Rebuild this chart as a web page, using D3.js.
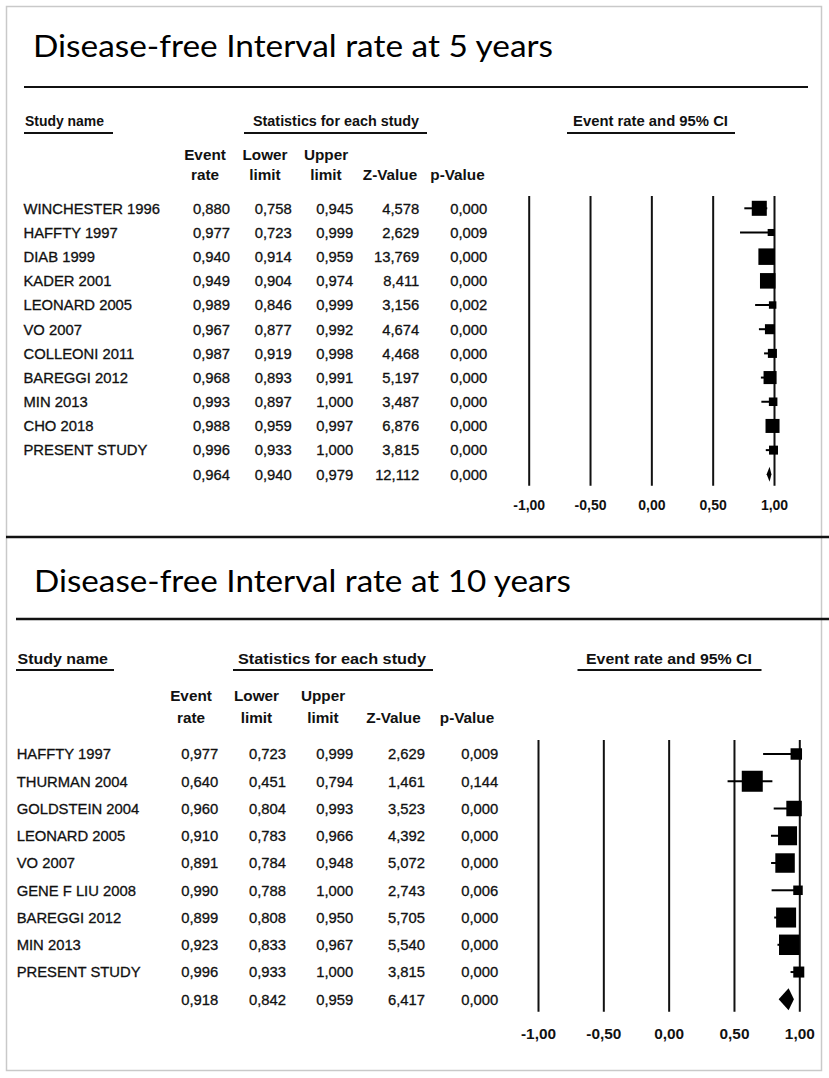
<!DOCTYPE html>
<html>
<head>
<meta charset="utf-8">
<script src="https://cdn.jsdelivr.net/npm/d3@7"></script>
<style>
  body { margin: 0; background: #fff; }
  svg { display: block; }
</style>
</head>
<body>
<svg id="chart" width="829" height="1078"></svg>
<script>
// ---- data: disease-free interval at 5 years
const studies5 = ["WINCHESTER 1996", "HAFFTY 1997", "DIAB 1999", "KADER 2001", "LEONARD 2005",
  "VO 2007", "COLLEONI 2011", "BAREGGI 2012", "MIN 2013", "CHO 2018", "PRESENT STUDY"];
const rate5 = [0.880, 0.977, 0.940, 0.949, 0.989, 0.967, 0.987, 0.968, 0.993, 0.988, 0.996];
const lower5 = [0.758, 0.723, 0.914, 0.904, 0.846, 0.877, 0.919, 0.893, 0.897, 0.959, 0.933];
const upper5 = [0.945, 0.999, 0.959, 0.974, 0.999, 0.992, 0.998, 0.991, 1.000, 0.997, 1.000];
const zval5 = [4.578, 2.629, 13.769, 8.411, 3.156, 4.674, 4.468, 5.197, 3.487, 6.876, 3.815];
const pval5 = [0.000, 0.009, 0.000, 0.000, 0.002, 0.000, 0.000, 0.000, 0.000, 0.000, 0.000];
// relative weights (%)
const weight5 = [14.6, 3.2, 17.6, 15.6, 3.6, 6.5, 5.3, 11.0, 4.7, 12.7, 5.2];
const pooled5 = [0.964, 0.940, 0.979, 12.112, 0.000];

// ---- data: disease-free interval at 10 years
const studies10 = ["HAFFTY 1997", "THURMAN 2004", "GOLDSTEIN 2004", "LEONARD 2005", "VO 2007",
  "GENE F LIU 2008", "BAREGGI 2012", "MIN 2013", "PRESENT STUDY"];
const rate10 = [0.977, 0.640, 0.960, 0.910, 0.891, 0.990, 0.899, 0.923, 0.996];
const lower10 = [0.723, 0.451, 0.804, 0.783, 0.784, 0.788, 0.808, 0.833, 0.933];
const upper10 = [0.999, 0.794, 0.993, 0.966, 0.948, 1.000, 0.950, 0.967, 1.000];
const zval10 = [2.629, 1.461, 3.523, 4.392, 5.072, 2.743, 5.705, 5.540, 3.815];
const pval10 = [0.009, 0.144, 0.000, 0.000, 0.000, 0.006, 0.000, 0.000, 0.000];
const weight10 = [5.1, 17.1, 9.3, 14.0, 14.7, 3.5, 15.5, 16.2, 4.7];
const pooled10 = [0.918, 0.842, 0.959, 6.417, 0.000];

const axisTicks = [-1, -0.5, 0, 0.5, 1];
const colHeads = [["Event", "rate"], ["Lower", "limit"], ["Upper", "limit"], ["", "Z-Value"], ["", "p-Value"]];
const sectionHeads = ["Study name", "Statistics for each study", "Event rate and 95% CI"];

const locale = d3.formatLocale({ decimal: ",", thousands: ".", grouping: [3], currency: ["", ""], minus: "-" });
const fmt3 = locale.format(".3f");
const fmt2 = locale.format(".2f");

const ink = "#111";
const txt = "'Liberation Sans', Arial, sans-serif";
const svg = d3.select("#chart");

// frame
svg.append("rect").attr("x", 6.5).attr("y", 6.5).attr("width", 815).attr("height", 1064)
  .attr("fill", "none").attr("stroke", "#c9c9c9").attr("stroke-width", 1.5);
svg.append("line").attr("x1", 6).attr("x2", 829).attr("y1", 537).attr("y2", 537)
  .attr("stroke", ink).attr("stroke-width", 2.5);

function drawPanel(p) {
  const g = svg.append("g");

  g.append("text").attr("x", p.titleX).attr("y", p.titleY)
    .attr("font-family", "Lato, 'Open Sans', sans-serif").attr("font-size", 30).attr("fill", "#000")
    .attr("textLength", p.titleW).attr("lengthAdjust", "spacingAndGlyphs")
    .text(p.title);
  g.append("line").attr("x1", p.rule[0]).attr("x2", p.rule[1]).attr("y1", p.ruleY).attr("y2", p.ruleY)
    .attr("stroke", ink).attr("stroke-width", p.ruleW);

  // section headers with underline
  sectionHeads.forEach((s, i) => {
    const sp = p.sections[i];
    g.append("text").attr("x", sp.x).attr("y", p.secY)
      .attr("font-family", txt).attr("font-weight", "bold")
      .attr("font-size", 15.5).attr("fill", ink)
      .attr("textLength", sp.w).attr("lengthAdjust", "spacingAndGlyphs")
      .text(s);
    g.append("line").attr("x1", sp.u[0]).attr("x2", sp.u[1]).attr("y1", p.secLineY).attr("y2", p.secLineY)
      .attr("stroke", ink).attr("stroke-width", 2);
  });

  // column headers
  colHeads.forEach((h, i) => {
    h.forEach((t, j) => {
      if (!t) return;
      g.append("text").attr("x", p.headX[i]).attr("y", p.headY[j])
        .attr("text-anchor", "middle")
        .attr("font-family", txt).attr("font-weight", "bold")
        .attr("font-size", 15.3).attr("fill", ink)
        .text(t);
    });
  });

  const n = p.names.length;
  const y = d3.scalePoint().domain(d3.range(n + 1)).range([p.rowY0, p.rowY1]);
  const x = d3.scaleLinear().domain([-1, 1]).range([p.x0, p.x1]);
  const box = d3.scaleSqrt().domain([0, d3.max(p.weights)]).range([0, p.maxBox]);

  // study names
  g.selectAll(".name").data(p.names).enter().append("text")
    .attr("x", p.nameX).attr("y", (d, i) => y(i)).attr("dy", "0.36em")
    .attr("font-family", txt).attr("font-size", 14.8).attr("fill", ink)
    .attr("stroke", ink).attr("stroke-width", 0.3)
    .text(d => d);

  // numeric columns (studies + pooled row)
  p.cols.forEach((col, c) => {
    const vals = col.concat([p.pooled[c]]);
    g.selectAll(".c" + c).data(vals).enter().append("text")
      .attr("x", p.colX[c]).attr("y", (d, i) => y(i)).attr("dy", "0.36em")
      .attr("text-anchor", "end")
      .attr("font-family", txt).attr("font-size", 14.8).attr("fill", ink)
      .attr("stroke", ink).attr("stroke-width", 0.3)
      .text(d => fmt3(d));
  });

  // reference lines + tick labels
  const axis = d3.axisBottom(x).tickValues(axisTicks)
    .tickSize(-(p.plotBottom - p.plotTop)).tickPadding(p.tickPad).tickFormat(fmt2);
  const ag = g.append("g").attr("transform", `translate(0,${p.plotBottom})`).call(axis);
  ag.select(".domain").remove();
  ag.selectAll(".tick line").attr("stroke", ink).attr("stroke-width", 2);
  ag.selectAll(".tick text").attr("fill", ink)
    .attr("font-family", txt).attr("font-weight", "bold").attr("font-size", p.tickFont);

  // confidence intervals
  const rows = p.cols[0].map((r, i) => ({ r: r, lo: p.cols[1][i], hi: p.cols[2][i], w: p.weights[i], i: i }));
  g.selectAll(".ci").data(rows).enter().append("line")
    .attr("x1", d => x(d.lo)).attr("x2", d => x(d.hi))
    .attr("y1", d => y(d.i)).attr("y2", d => y(d.i))
    .attr("stroke", "#000").attr("stroke-width", 2);

  g.selectAll(".box").data(rows).enter().append("rect")
    .attr("x", d => x(d.r) - box(d.w) / 2).attr("y", d => y(d.i) - box(d.w) / 2)
    .attr("width", d => box(d.w)).attr("height", d => box(d.w))
    .attr("fill", "#000");

  // pooled diamond
  const py = y(n);
  const pts = [[x(p.pooled[1]), py], [x(p.pooled[0]), py - p.diamondH / 2],
    [x(p.pooled[2]), py], [x(p.pooled[0]), py + p.diamondH / 2]];
  g.append("path").attr("d", d3.line()(pts) + "Z").attr("fill", "#000");
}

drawPanel({
  title: "Disease-free Interval rate at 5 years", titleX: 33, titleY: 57, titleW: 520,
  rule: [24, 808], ruleY: 87, ruleW: 2,
  secY: 126, secLineY: 133,
  sections: [{ x: 25, w: 79, u: [24, 113] }, { x: 253, w: 166, u: [244, 427] }, { x: 573, w: 155, u: [567, 735] }],
  headX: [205, 265, 326, 390, 457.5], headY: [159.5, 180],
  names: studies5, nameX: 23.5,
  cols: [rate5, lower5, upper5, zval5, pval5], pooled: pooled5, weights: weight5,
  colX: [230, 291.7, 353.3, 419.3, 487.3],
  rowY0: 208.3, rowY1: 474.3,
  x0: 528.7, x1: 774, plotTop: 196, plotBottom: 485.7,
  tickPad: 14.4, tickFont: 14, maxBox: 16.5, diamondH: 15
});

drawPanel({
  title: "Disease-free Interval rate at 10 years", titleX: 34, titleY: 592, titleW: 537,
  rule: [16, 829], ruleY: 619, ruleW: 2.5,
  secY: 664, secLineY: 670,
  sections: [{ x: 17.5, w: 90.5, u: [16, 114] }, { x: 238, w: 188, u: [233, 433] }, { x: 586, w: 166, u: [577.5, 761.5] }],
  headX: [191, 256.5, 323, 393.5, 467], headY: [700.5, 723],
  names: studies10, nameX: 16.7,
  cols: [rate10, lower10, upper10, zval10, pval10], pooled: pooled10, weights: weight10,
  colX: [218.3, 286, 353.3, 425, 498.3],
  rowY0: 754, rowY1: 999.3,
  x0: 538, x1: 799.3, plotTop: 740, plotBottom: 1011.7,
  tickPad: 16.2, tickFont: 15.4, maxBox: 21, diamondH: 22
});
</script>
</body>
</html>
